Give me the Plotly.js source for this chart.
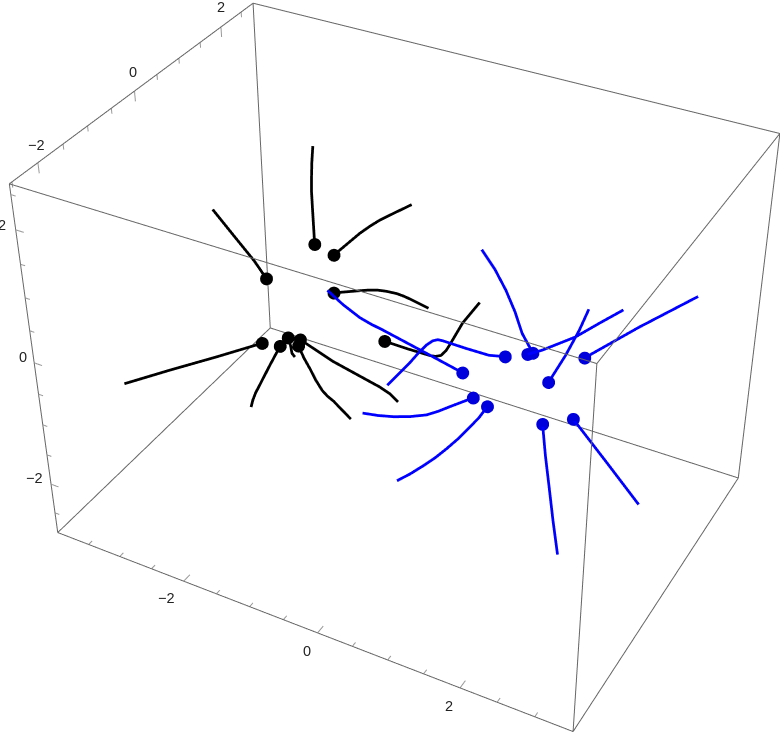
<!DOCTYPE html><html><head><meta charset="utf-8"><script src="https://cdn.plot.ly/plotly-3.0.1.min.js"></script>
<style>html,body{margin:0;background:#fff}#o{position:relative;width:780px;height:739px;overflow:hidden}#g{position:absolute;left:-450px;top:-470px;width:1680px;height:1680px}</style></head><body><div id="o"><div id="g"></div></div>
<script>
// Axis extents of the plot box
const xRange=[-4,3.5], yRange=[-2.55,2.8], zRange=[-2.85,2.65];
const xLabels=[-2,0,2], yLabels=[-2,0,2], zLabels=[-2,0,2];
// Trajectories: first point of each carries the ball, each point is [x,y,z]
const blackCurves=[
[[-2.01,0.95,0.38],[-2.18,1.2,0.79],[-2.24,1.29,0.94],[-2.29,1.38,1.08],[-2.35,1.5,1.26],[-2.4,1.62,1.44]],
[[-1.75,1,0.26],[-1.61,1.2,0.41],[-1.53,1.315,0.495],[-1.44,1.43,0.57],[-1.35,1.53,0.635],[-1.25,1.63,0.69],[-1.04,1.84,0.8]],
[[-2.44,0.41,0.01],[-2.65,0.46,0.2],[-2.97,0.5,0.47],[-3.32,0.55,0.76]],
[[-1.61,0.74,-0.15],[-1.35,0.9,-0.13],[-1.236,0.967,-0.122],[-1.12,1.03,-0.12],[-1.005,1.082,-0.135],[-0.88,1.13,-0.16],[-0.78,1.157,-0.19],[-0.67,1.18,-0.23],[-0.46,1.23,-0.32]],
[[-0.84,0.72,-0.67],[-0.55,0.82,-0.76],[-0.27,0.91,-0.83],[-0.2,0.94,-0.84],[-0.14,0.98,-0.83],[-0.1,1.04,-0.78],[-0.08,1.11,-0.72],[-0.01,1.34,-0.48],[0.11,1.59,-0.26]],
[[-2.25,-0.06,-0.69],[-2.71,-0.43,-0.83],[-3.23,-0.84,-0.98],[-3.69,-1.21,-1.12]],
[[-2.03,0.03,-0.72],[-2.08,-0.18,-0.94],[-2.14,-0.45,-1.23],[-2.145,-0.513,-1.305],[-2.14,-0.57,-1.38]],
[[-1.97,0.14,-0.63],[-1.91,0.1,-0.72],[-1.87,0.06,-0.8],[-1.82,0.05,-0.84]],
[[-1.82,0.2,-0.65],[-1.36,0.26,-0.89],[-0.73,0.38,-1.17],[-0.58,0.39,-1.24],[-0.46,0.39,-1.33]],
[[-1.82,0.15,-0.72],[-1.71,0.1,-0.854],[-1.59,0.06,-0.98],[-1.49,0.02,-1.09],[-1.38,-0.01,-1.2],[-1.3,-0.015,-1.264],[-1.21,-0.01,-1.32],[-0.94,-0.03,-1.51]]];
const blueCurves=[
[[0.89,-0.42,0.18],[0.52,-0.49,0.34],[-0.11,-0.61,0.61],[-0.257,-0.639,0.667],[-0.4,-0.66,0.73],[-0.624,-0.678,0.864],[-0.84,-0.68,1.01]],
[[1.29,-0.07,0.34],[1.11,-0.15,0.35],[0.84,-0.24,0.42],[0.57,-0.33,0.5],[0.51,-0.35,0.51],[0.46,-0.39,0.5],[0.41,-0.45,0.46],[0.35,-0.55,0.38],[0.29,-0.67,0.28],[0.13,-0.94,0.06]],
[[1.57,0.12,0.37],[1.39,0.18,0.57],[1.24,0.276,0.785],[1.07,0.36,1],[0.88,0.43,1.21],[0.67,0.48,1.41]],
[[1.52,0.08,0.36],[1.66,0.19,0.4],[1.97,0.47,0.53],[2.17,0.69,0.66],[2.39,0.92,0.8]],
[[2.14,0.39,0.32],[2.61,0.9,0.62],[3.14,1.44,0.93]],
[[1.84,0.02,0.08],[1.93,0.29,0.35],[1.99,0.53,0.6],[2.02,0.72,0.81]],
[[1.09,-0.52,-0.07],[0.87,-0.71,-0.16],[0.762,-0.808,-0.205],[0.65,-0.9,-0.24],[0.478,-1.005,-0.258],[0.3,-1.1,-0.26],[0.132,-1.184,-0.246],[-0.04,-1.26,-0.22]],
[[1.27,-0.49,-0.16],[1.22,-0.61,-0.27],[1.15,-0.73,-0.37],[1.07,-0.865,-0.48],[0.98,-1,-0.58],[0.89,-1.12,-0.67],[0.79,-1.24,-0.75],[0.68,-1.365,-0.83],[0.56,-1.49,-0.9]],
[[1.92,-0.28,-0.34],[2.06,-0.467,-0.655],[2.21,-0.65,-0.97],[2.367,-0.842,-1.305],[2.53,-1.03,-1.64]],
[[2.23,-0.07,-0.29],[2.72,-0.15,-0.71],[3.22,-0.23,-1.15]]];

const pad=.1;
const aspect={x:1.5637,y:1.1273,z:1.1307};
const camera={eye:{x:2.0513,y:-3.7148,z:3.031},center:{x:1.6565,y:-3.0123,z:2.4387},up:{x:-.2843,y:.5269,z:.8057},projection:{type:'perspective'}};
const ex=[],ey=[],ez=[];
[['000','100'],['100','110'],['110','010'],['010','000'],['001','101'],['101','111'],['111','011'],['011','001'],['000','001'],['100','101'],['110','111'],['010','011']].forEach(([a,b])=>{for(const k of [a,b]){ex.push(xRange[+k[0]]);ey.push(yRange[+k[1]]);ez.push(zRange[+k[2]])}ex.push(null);ey.push(null);ez.push(null)});
const tx=[],ty=[],tz=[];const seg=(a,b)=>{tx.push(a[0],b[0],null);ty.push(a[1],b[1],null);tz.push(a[2],b[2],null)};
for(let v=-3.5;v<=3;v+=.5){const m=v%2==0;seg([v,yRange[0],zRange[0]],[v,yRange[0]+(m?.14:.08),zRange[0]])}
for(let v=-2.5;v<=2.5;v+=.5){const m=v%2==0;seg([xRange[0],v,zRange[1]],[xRange[0],v,zRange[1]-(m?.15:.08)])}
for(let v=-2.5;v<=2.5;v+=.5){const m=v%2==0;seg([xRange[0],yRange[0],v],[xRange[0]+(m?.12:.07),yRange[0],v])}
const traces=[{type:'scatter3d',mode:'lines',x:ex,y:ey,z:ez,line:{color:'#666',width:2},connectgaps:false,hoverinfo:'skip'},{type:'scatter3d',mode:'lines',x:tx,y:ty,z:tz,line:{color:'#999',width:2},connectgaps:false,hoverinfo:'skip'}];
[[blackCurves,'#000','#000'],[blueCurves,'#0000ff','#0000dd']].forEach(([S,c,mc])=>S.forEach(cv=>{
 traces.push({type:'scatter3d',mode:'lines',x:cv.map(q=>q[0]),y:cv.map(q=>q[1]),z:cv.map(q=>q[2]),line:{color:c,width:5.5},hoverinfo:'skip'});
 traces.push({type:'scatter3d',mode:'markers',x:[cv[0][0]],y:[cv[0][1]],z:[cv[0][2]],marker:{color:mc,size:7.5,line:{width:0}},hoverinfo:'skip'});
}));
const hide={visible:false,showgrid:false,zeroline:false,showticklabels:false,showspikes:false};
const txt=v=>String(v).replace('-','−');
const ann=(x,y,z,v,xs,ys)=>({x,y,z,text:txt(v),showarrow:false,xshift:xs,yshift:ys,xanchor:'center',yanchor:'middle',font:{family:'Liberation Sans',size:14.5,color:'#222'}});
const xOff=[[-17,-17],[-10.5,-18],[-11,-18]], yOff=[[-1,18],[-1,19],[0,20]], zOff=[[-17,6],[-11,6],[-14,5]];
const anns=[...xLabels.map((v,i)=>ann(v,yRange[0],zRange[0],v,xOff[i][0],xOff[i][1])),
 ...yLabels.map((v,i)=>ann(xRange[0],v,zRange[1],v,yOff[i][0],yOff[i][1])),
 ...zLabels.map((v,i)=>ann(xRange[0],yRange[0],v,v,zOff[i][0],zOff[i][1]))];
Plotly.newPlot('g',traces,{width:1680,height:1680,margin:{l:0,r:0,t:0,b:0},showlegend:false,paper_bgcolor:'#fff',scene:{domain:{x:[0,1],y:[0,1]},aspectmode:'manual',aspectratio:aspect,annotations:anns,xaxis:{...hide,range:[xRange[0]-pad,xRange[1]+pad]},yaxis:{...hide,range:[yRange[0]-pad,yRange[1]+pad]},zaxis:{...hide,range:[zRange[0]-pad,zRange[1]+pad]},camera}},{displayModeBar:false});
</script></body></html>
